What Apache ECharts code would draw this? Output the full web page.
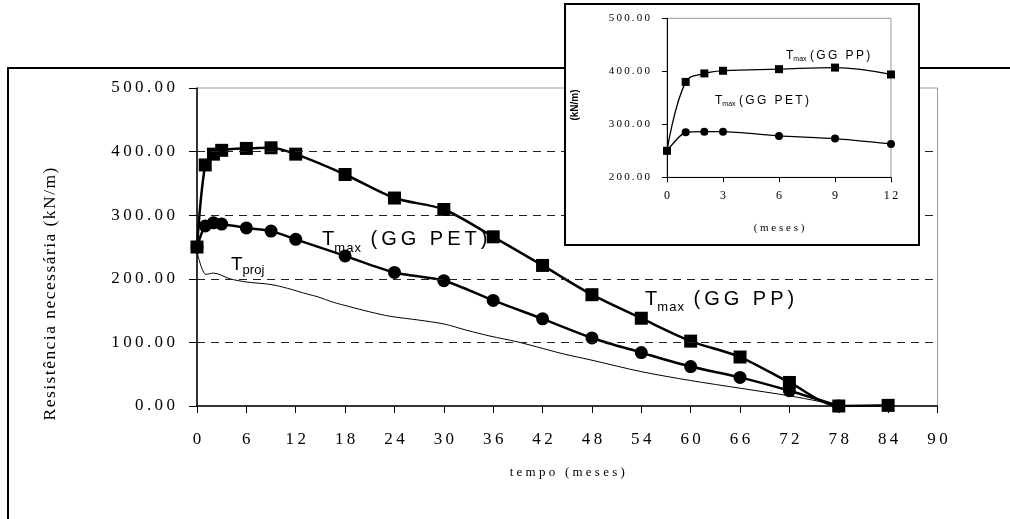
<!DOCTYPE html>
<html>
<head>
<meta charset="utf-8">
<title>Resistência necessária x tempo</title>
<script src="https://cdn.jsdelivr.net/npm/echarts@6/dist/echarts.min.js"></script>
<style>
  html, body { margin: 0; padding: 0; background: #fff; }
  #chart { width: 1010px; height: 519px; }
</style>
</head>
<body>
<div id="chart"></div>
<script>
// valores (kN/m x meses)
const months = [0, 1, 2, 3, 6, 9, 12, 18, 24, 30, 36, 42, 48, 54, 60, 66, 72, 78, 84];
const tmaxPP = [250, 379, 396, 402, 405, 406, 396, 364, 327, 309, 266, 221, 175, 138, 102, 77, 37, 0, 1];

const petMonths = [0, 1, 2, 3, 6, 9, 12, 18, 24, 30, 36, 42, 48, 54, 60, 66, 72, 78];
const tmaxPET = [250, 283, 288, 286, 280, 275, 262, 236, 210, 197, 166, 137, 107, 84, 62, 45, 24, 0];

const projMonths = [0, 0.2, 1.1, 2, 4, 6, 9, 11, 13.4, 14.6, 16.6, 18.6, 21, 23.5, 27, 30, 32.8, 35.6, 38.9, 41.3, 44.5, 48, 54, 60, 66, 72, 75.7, 78];
const tProj = [250, 232, 207, 209, 200, 195, 191, 185, 176, 172, 163, 156, 148, 141, 135, 129, 119, 110, 101, 93, 82, 72, 54, 40, 28, 16, 7, 0];

// detalhe dos 12 primeiros meses
const insetMonths = [0, 1, 2, 3, 6, 9, 12];
const insetPP = [250, 380, 396, 401, 404, 407, 394];
const insetPET = [250, 285, 286, 286, 278, 273, 263];

// linhas tracejadas
const mainGridY = [100, 200, 300, 400];
const insetGridY = [300, 400];
const insetGridX = [3, 6, 9];

const TS = '\u2009'; // espaço fino p/ simular o espaçamento de letras
function spread(s, gap) {
  return String(s).split('').join(gap);
}
function pairs(xs, ys) {
  return xs.map((x, i) => [x, ys[i]]);
}

const serif = '"Liberation Serif", "Times New Roman", serif';
const sans = '"Liberation Sans", Arial, sans-serif';

// T com subscrito: o padding de cima empurra o subscrito para baixo
function richLabel(sub, rest, size, subSize, subPad) {
  return {
    text: '{t|T}{s|' + sub + '}{t|' + rest + '}',
    rich: {
      t: { fontSize: size, fontFamily: sans, verticalAlign: 'top', fill: '#000' },
      s: { fontSize: subSize, fontFamily: sans, verticalAlign: 'top', padding: [subPad, 0, 0, 0], fill: '#000' }
    },
    fill: '#000'
  };
}
function gg(tail) {
  return '(' + TS + spread('GG', TS) + TS + ' ' + TS + spread(tail, TS) + TS + ')';
}

const chart = echarts.init(document.getElementById('chart'), null, { renderer: 'canvas' });

const option = {
  backgroundColor: '#fff',
  animation: false,
  grid: [
    { left: 197, right: 72.5, top: 88, bottom: 113, show: true, borderColor: '#999', borderWidth: 1, backgroundColor: 'transparent' },
    { left: 667, right: 119, top: 18.3, bottom: 341.7, show: true, borderColor: '#999', borderWidth: 1, backgroundColor: '#fff', z: 11 }
  ],
  xAxis: [
    {
      gridIndex: 0, type: 'value', min: 0, max: 90, interval: 6,
      name: spread('tempo', ' ') + '   ' + spread('(meses)', ' '),
      nameLocation: 'middle', nameGap: 60,
      nameTextStyle: { fontFamily: serif, fontSize: 13, color: '#000' },
      axisLine: { show: true, lineStyle: { color: '#000', width: 1.5 } },
      axisTick: { show: true, inside: false, length: 7, lineStyle: { color: '#000', width: 1 } },
      axisLabel: { margin: 25, fontFamily: serif, fontSize: 17, color: '#000', formatter: v => spread(v, TS) },
      splitLine: { show: false }
    },
    {
      gridIndex: 1, type: 'value', min: 0, max: 12, interval: 3, z: 12,
      name: spread('(meses)', ' '),
      nameLocation: 'middle', nameGap: 45,
      nameTextStyle: { fontFamily: serif, fontSize: 11, color: '#000' },
      axisLine: { show: true, lineStyle: { color: '#000', width: 1 } },
      axisTick: { show: true, inside: false, length: 5, lineStyle: { color: '#000', width: 1 } },
      axisLabel: { margin: 13, fontFamily: serif, fontSize: 12, color: '#000', formatter: v => spread(v, TS) },
      splitLine: { show: false }
    }
  ],
  yAxis: [
    {
      gridIndex: 0, type: 'value', min: 0, max: 500, interval: 100,
      axisLine: { show: true, lineStyle: { color: '#000', width: 1.5 } },
      axisTick: { show: true, inside: false, length: 8, lineStyle: { color: '#000', width: 1 } },
      axisLabel: { margin: 22, fontFamily: serif, fontSize: 17, color: '#000', formatter: v => spread(v.toFixed(2), TS) },
      splitLine: { show: false }
    },
    {
      gridIndex: 1, type: 'value', min: 200, max: 500, interval: 100, z: 12,
      axisLine: { show: true, lineStyle: { color: '#000', width: 1 } },
      axisTick: { show: true, inside: false, length: 5, lineStyle: { color: '#000', width: 1 } },
      axisLabel: { margin: 17, fontFamily: serif, fontSize: 11, color: '#000', formatter: v => spread(v.toFixed(2), TS) },
      splitLine: { show: false }
    }
  ],
  series: [
    {
      name: 'grade', type: 'line', xAxisIndex: 0, yAxisIndex: 0, data: [], z: 1, silent: true,
      markLine: {
        silent: true, symbol: 'none', label: { show: false }, animation: false,
        lineStyle: { type: [8, 6], color: '#222', width: 1 },
        data: mainGridY.map(v => ({ yAxis: v }))
      }
    },
    {
      name: 'Tproj', type: 'line', xAxisIndex: 0, yAxisIndex: 0,
      data: pairs(projMonths, tProj), showSymbol: false, smooth: 0.3,
      lineStyle: { color: '#000', width: 1 }, z: 2
    },
    {
      name: 'Tmax (GG PET)', type: 'line', xAxisIndex: 0, yAxisIndex: 0,
      data: pairs(petMonths, tmaxPET), smooth: 0.3,
      symbol: 'circle', symbolSize: 13,
      itemStyle: { color: '#000' }, lineStyle: { color: '#000', width: 2.5 }, z: 3
    },
    {
      name: 'Tmax (GG PP)', type: 'line', xAxisIndex: 0, yAxisIndex: 0,
      data: pairs(months, tmaxPP), smooth: 0.3,
      symbol: 'rect', symbolSize: 13,
      itemStyle: { color: '#000' }, lineStyle: { color: '#000', width: 2.5 }, z: 4
    },
    {
      name: 'grade detalhe', type: 'line', xAxisIndex: 1, yAxisIndex: 1, data: [], z: 13, silent: true,
      markLine: {
        silent: true, symbol: 'none', label: { show: false }, animation: false,
        lineStyle: { type: [7, 5], color: '#222', width: 1 },
        data: insetGridY.map(v => ({ yAxis: v })).concat(insetGridX.map(v => ({ xAxis: v })))
      }
    },
    {
      name: 'PET detalhe', type: 'line', xAxisIndex: 1, yAxisIndex: 1,
      data: pairs(insetMonths, insetPET), smooth: 0.2,
      symbol: 'circle', symbolSize: 8,
      itemStyle: { color: '#000' }, lineStyle: { color: '#000', width: 1.3 }, z: 14
    },
    {
      name: 'PP detalhe', type: 'line', xAxisIndex: 1, yAxisIndex: 1,
      data: pairs(insetMonths, insetPP), smooth: 0.4,
      symbol: 'rect', symbolSize: 8,
      itemStyle: { color: '#000' }, lineStyle: { color: '#000', width: 1.3 }, z: 15
    }
  ],
  graphic: [
    // moldura externa
    {
      type: 'polyline', z: 0, silent: true,
      shape: { points: [[1010, 68], [8, 68], [8, 519]] },
      style: { stroke: '#000', lineWidth: 2, fill: null }
    },
    // caixa do detalhe
    {
      type: 'rect', z: 10, silent: true,
      shape: { x: 565, y: 4, width: 354, height: 241 },
      style: { fill: '#fff', stroke: '#000', lineWidth: 2 }
    },
    // título do eixo y
    {
      type: 'text', z: 5, x: 50, y: 294, rotation: Math.PI / 2, silent: true,
      style: {
        text: spread('Resistência necessária (kN/m)', '\u200A'),
        font: '17.5px ' + serif, fill: '#000', textAlign: 'center', textVerticalAlign: 'middle'
      }
    },
    {
      type: 'text', z: 20, x: 575, y: 105, rotation: Math.PI / 2, silent: true,
      style: {
        text: '(kN/m)', font: 'bold 10px ' + sans, fill: '#000', textAlign: 'center', textVerticalAlign: 'middle'
      }
    },
    // rótulos das curvas
    {
      type: 'text', z: 5, x: 231, y: 255, silent: true,
      style: richLabel('proj', '', 19, 13, 9)
    },
    {
      type: 'text', z: 5, x: 322, y: 229, silent: true,
      style: richLabel(spread('max', '\u200A'), '\u2009 ' + gg('PET'), 20, 13, 13)
    },
    {
      type: 'text', z: 5, x: 645, y: 289, silent: true,
      style: richLabel(spread('max', '\u200A'), '\u2009 ' + gg('PP'), 20, 13, 12)
    },
    {
      type: 'text', z: 20, x: 786, y: 50, silent: true,
      style: richLabel('max', ' ' + gg('PP'), 12, 7, 6)
    },
    {
      type: 'text', z: 20, x: 715, y: 95, silent: true,
      style: richLabel('max', ' ' + gg('PET'), 12, 7, 6)
    }
  ]
};

chart.setOption(option);
</script>
</body>
</html>
